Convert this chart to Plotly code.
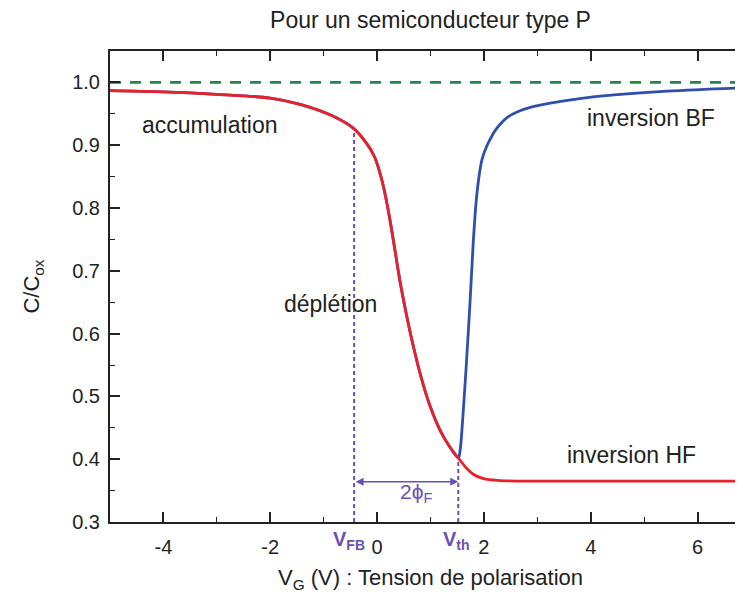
import plotly.graph_objects as go

# Data
vg_hf = [-5.0, -4.0, -3.0, -2.0, -1.44, -0.82, -0.43, -0.19, -0.05, 0.056, 0.15, 0.243, 0.33, 0.43, 0.55, 0.67, 0.82, 0.99, 1.18, 1.35, 1.52, 1.66, 1.80, 1.99, 2.3, 3.0, 4.5, 7.0]
c_hf = [0.987, 0.985, 0.981, 0.975, 0.965, 0.946, 0.926, 0.902, 0.882, 0.855, 0.822, 0.780, 0.735, 0.683, 0.630, 0.583, 0.532, 0.485, 0.446, 0.421, 0.402, 0.387, 0.376, 0.369, 0.366, 0.365, 0.365, 0.365]

vg_bf = [-5.0, -4.0, -3.0, -2.0, -1.44, -0.82, -0.43, -0.19, -0.05, 0.056, 0.15, 0.243, 0.33, 0.43, 0.55, 0.67, 0.82, 0.99, 1.18, 1.35, 1.52, 1.555, 1.60, 1.67, 1.74, 1.80, 1.86, 1.92, 1.97, 2.05, 2.12, 2.20, 2.30, 2.45, 2.62, 2.90, 3.24, 3.70, 4.18, 5.43, 7.0]
c_bf = [0.987, 0.985, 0.981, 0.975, 0.965, 0.946, 0.926, 0.902, 0.882, 0.855, 0.822, 0.780, 0.735, 0.683, 0.630, 0.583, 0.532, 0.485, 0.446, 0.421, 0.402, 0.415, 0.460, 0.550, 0.650, 0.745, 0.815, 0.857, 0.879, 0.898, 0.910, 0.922, 0.933, 0.945, 0.953, 0.961, 0.967, 0.973, 0.978, 0.986, 0.992]

c_ox_level = 1.0
v_fb = -0.43
c_at_vfb = 0.926
v_th = 1.52
c_at_vth = 0.402

x_ticks = [-4, -2, 0, 2, 4, 6]
y_ticks = [0.3, 0.4, 0.5, 0.6, 0.7, 0.8, 0.9, 1.0]

FONT = "Arial, Liberation Sans, sans-serif"
PURPLE = "#6b4fb3"
RED = "#e8212b"
BLUE = "#2e4fae"
GREEN = "#1d8a4c"
INK = "#222222"

fig = go.Figure()

fig.add_trace(go.Scatter(x=[-5, 7], y=[c_ox_level, c_ox_level], mode="lines",
                         line=dict(color=GREEN, width=2.6, dash="11px,9px"), showlegend=False))
fig.add_trace(go.Scatter(x=[v_fb, v_fb], y=[0.3, c_at_vfb], mode="lines",
                         line=dict(color=PURPLE, width=2, dash="4px,3px"), showlegend=False))
fig.add_trace(go.Scatter(x=[v_th, v_th], y=[0.3, c_at_vth], mode="lines",
                         line=dict(color=PURPLE, width=2, dash="4px,3px"), showlegend=False))
fig.add_trace(go.Scatter(x=vg_bf, y=c_bf, mode="lines", line=dict(color=BLUE, width=2.8, shape="spline", smoothing=1.0),
                         showlegend=False))
fig.add_trace(go.Scatter(x=vg_hf, y=c_hf, mode="lines", line=dict(color=RED, width=2.8, shape="spline", smoothing=1.0),
                         showlegend=False))

TXT = dict(size=23, color=INK, family=FONT)
annotations = [
    dict(x=-3.13, y=0.932, text="accumulation", showarrow=False, font=TXT),
    dict(x=5.13, y=0.943, text="inversion BF", showarrow=False, font=TXT),
    dict(x=-0.88, y=0.647, text="déplétion", showarrow=False, font=TXT),
    dict(x=4.77, y=0.407, text="inversion HF", showarrow=False, font=TXT),
    dict(x=v_th, y=0.364, ax=v_fb, ay=0.364, xref="x", yref="y", axref="x", ayref="y",
         text="", showarrow=True, arrowhead=2, startarrowhead=2, arrowside="end+start",
         arrowsize=1, arrowwidth=1.6, arrowcolor=PURPLE, startarrowsize=1),
    dict(x=0.72, y=0.346, text="2ϕ<sub>F</sub>", showarrow=False,
         font=dict(size=21, color=PURPLE, family=FONT)),
    dict(x=v_fb - 0.1, y=-0.07, xref="x", yref="paper", text="<b>V</b><sub><b>FB</b></sub>", showarrow=False,
         font=dict(size=20, color=PURPLE, family=FONT)),
    dict(x=v_th - 0.04, y=-0.07, xref="x", yref="paper", text="<b>V</b><sub><b>th</b></sub>", showarrow=False,
         font=dict(size=20, color=PURPLE, family=FONT)),
]

fig.update_layout(
    width=743, height=597,
    margin=dict(l=102, r=0, t=43, b=83),
    paper_bgcolor="white", plot_bgcolor="white",
    font=dict(family=FONT, color=INK, size=20),
    title=dict(text="Pour un semiconducteur type P", xref="paper", x=0.5, xanchor="center",
               yref="container", y=1 - 12 / 597, yanchor="middle",
               font=dict(size=23, color=INK, family=FONT)),
    annotations=annotations,
    xaxis=dict(range=[-5, 7], tickvals=x_ticks, ticktext=[str(t) for t in x_ticks],
               ticks="inside", ticklen=10, tickwidth=1.6, tickcolor=INK,
               minor=dict(tickvals=[-5, -3, -1, 1, 3, 5], ticks="inside", ticklen=5, tickwidth=1.4, tickcolor=INK),
               showline=True, linecolor=INK, linewidth=2, mirror="allticks", showgrid=False, zeroline=False,
               tickfont=dict(size=20, color=INK), ticklabelstandoff=6, automargin=False,
               title=dict(text="V<sub>G</sub> (V) : Tension de polarisation", font=dict(size=22, color=INK), standoff=13)),
    yaxis=dict(range=[0.3, 1.05], tickvals=y_ticks, ticktext=[f"{t:.1f}" for t in y_ticks],
               ticks="inside", ticklen=10, tickwidth=1.6, tickcolor=INK,
               minor=dict(tickvals=[0.35, 0.45, 0.55, 0.65, 0.75, 0.85, 0.95, 1.05], ticks="inside", ticklen=5, tickwidth=1.4, tickcolor=INK),
               showline=True, linecolor=INK, linewidth=2, mirror="allticks", showgrid=False, zeroline=False,
               tickfont=dict(size=20, color=INK), ticklabelstandoff=4, automargin=False,
               title=dict(text="C/C<sub>ox</sub>", font=dict(size=22, color=INK), standoff=26)),
)

fig.write_html("out.html")
